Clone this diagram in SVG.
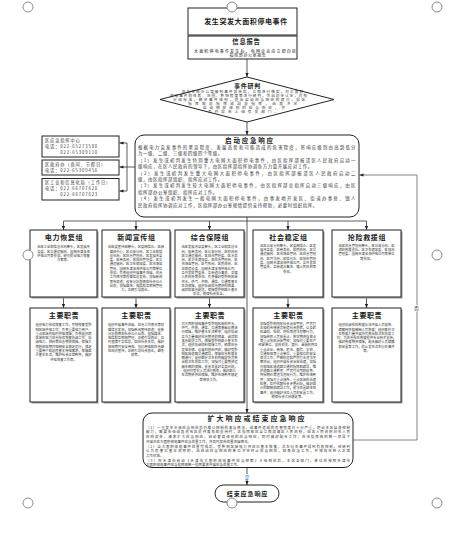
<svg xmlns="http://www.w3.org/2000/svg" width="458" height="535" viewBox="0 0 458 535">
<defs>
<marker id="ah" viewBox="0 0 10 10" refX="10" refY="5" markerWidth="4" markerHeight="4" markerUnits="userSpaceOnUse" orient="auto"><path d="M0,1 L10,5 L0,9 z" fill="#222"/></marker>
<style>
.box{fill:#fff;stroke:#222;stroke-width:1}
.shadow{fill:#9a9a9a;stroke:none}
.t{font-family:"Noto Sans CJK SC","Noto Sans",sans-serif;fill:#1a1a1a}
.hd{font-weight:bold;text-anchor:middle}
.sm{font-size:3.3px;text-anchor:middle;fill:#333}
.ct{font-size:4.2px;letter-spacing:0.9px;fill:#333}
.st{font-size:4.4px;letter-spacing:0.6px;fill:#333}
.ex{font-size:3.5px;fill:#333}
.dm{font-size:3.6px;text-anchor:middle;fill:#333}
.conn{fill:none;stroke:#333;stroke-width:0.8}
.arr{fill:none;stroke:#333;stroke-width:0.8;marker-end:url(#ah)}
.loop{fill:none;stroke:#777;stroke-width:0.9;marker-end:url(#ah)}
.handle{fill:#fff;stroke:#8a8a8a;stroke-width:1}
</style>
</defs>
<rect width="458" height="535" fill="#fff"/>

<g id="connectors">
<path class="arr" d="M247,59 V77"/>
<path class="arr" d="M247,121.5 V135"/>
<path class="arr" d="M247,217 V413"/>
<path class="conn" d="M63.5,221 H366.5"/>
<path class="arr" d="M63.5,221 V230"/>
<path class="arr" d="M136,221 V230"/>
<path class="arr" d="M209.5,221 V230"/>
<path class="arr" d="M288,221 V230"/>
<path class="arr" d="M366.5,221 V230"/>
<path class="arr" d="M63.5,297 V308"/>
<path class="arr" d="M136,297 V308"/>
<path class="arr" d="M209.5,297 V308"/>
<path class="arr" d="M288,297 V308"/>
<path class="arr" d="M366.5,297 V308"/>
<path class="conn" d="M135,167 H127 M127,143 V191"/>
<path class="arr" d="M127,143 H119.5"/>
<path class="arr" d="M127,167 H119.5"/>
<path class="arr" d="M127,191 H119.5"/>
<path class="arr" d="M247,467.5 V485"/>
<path class="loop" d="M353,440 H417 V175 H359.5"/>
<rect x="412.5" y="305" width="8" height="6.5" fill="#fff"/>
<text class="t" x="416.5" y="310.3" font-size="5" text-anchor="middle">否</text>
<rect x="244" y="474" width="6" height="5.5" fill="#fff"/>
<text class="t" x="247" y="478.5" font-size="4.5" text-anchor="middle" style="fill:#3a6fd0">是</text>
</g>

<g id="n-start">
<rect class="box" x="188" y="8" width="109" height="27" stroke-width="1.6"/>
<text class="t hd" x="246" y="23.5" font-size="7" letter-spacing="0.6">发生突发大面积停电事件</text>
</g>

<g id="n-report">
<rect class="box" x="188" y="36" width="109" height="23"/>
<text class="t hd" x="246.5" y="44.3" font-size="6.3" letter-spacing="0.8">信息报告</text>
<text class="t" x="194" y="52.5" font-size="4" fill="#333" textLength="102" lengthAdjust="spacing">大面积停电事件发生后，电网企业应立即向区</text>
<text class="t" x="248" y="57" font-size="4" fill="#333" text-anchor="middle" letter-spacing="0.6">指挥部办公室报告</text>
</g>

<g id="n-judge">
<polygon class="box" points="247,77 334,99.5 247,122 160,99.5"/>
<text class="t hd" x="247.5" y="88" font-size="6" letter-spacing="0.8">事件研判</text>
<text class="t dm" x="242.5" y="92.6" textLength="121" lengthAdjust="spacing">区指挥部办公室接到事件报告后，立即进行核实，对大面积</text>
<text class="t dm" x="238.5" y="96.6" textLength="137" lengthAdjust="spacing">停电事件的性质、范围、影响程度等进行研判，作出初步认定，对照</text>
<text class="t dm" x="239" y="101" textLength="132" lengthAdjust="spacing">分级标准，确定事件级别，提出启动应急响应的建议，报区</text>
<text class="t dm" x="242.5" y="105" textLength="109" lengthAdjust="spacing">指挥部总指挥或副总指挥，由其决定</text>
<text class="t dm" x="244" y="109" textLength="82" lengthAdjust="spacing">启动相应级别的应急响应，并</text>
<text class="t dm" x="243" y="112.6" textLength="70" lengthAdjust="spacing">及时报告上级有关部门。</text>
</g>

<g id="n-contact1">
<rect class="box" x="42" y="136" width="77" height="21" stroke-width="0.9"/>
<text class="t ct" x="45" y="141.5">区应急指挥中心</text>
<text class="t ct" x="45" y="147.5">电话：022-65273500</text>
<text class="t ct" x="45" y="153.5">　　　022-65309110</text>
</g>
<g id="n-contact2">
<rect class="box" x="42" y="160" width="77" height="15" stroke-width="0.9"/>
<text class="t ct" x="45" y="165.8">区政府办（夜间、节假日）</text>
<text class="t ct" x="45" y="171.5">电话：022-65309456</text>
</g>
<g id="n-contact3">
<rect class="box" x="42" y="178.5" width="77" height="21.5" stroke-width="0.9"/>
<text class="t ct" x="45" y="184.3">区工业和信息化局（工作日）</text>
<text class="t ct" x="45" y="190.3">电话：022-66707620</text>
<text class="t ct" x="45" y="196.3">　　　022-66707623</text>
</g>

<g id="n-respond">
<rect class="box" x="135" y="135" width="224" height="82" rx="9" ry="9"/>
<text class="t hd" x="250" y="143.3" font-size="6.5" letter-spacing="1.8">启动应急响应</text>
<text class="t st" x="138" y="149" textLength="218" lengthAdjust="spacing">根据电力突发事件的紧急程度、发展态势和可能造成的危害程度，将响应级别由高到低分</text>
<text class="t st" x="138" y="155.4">为一级、二级、三级和四级四个等级。</text>
<text class="t st" x="138" y="161.8" textLength="218" lengthAdjust="spacing">（1）发生或初判发生特别重大电网大面积停电事件，由区指挥部报请区人民政府启动一</text>
<text class="t st" x="138" y="168.2">级响应，在区人民政府的领导下，由区指挥部指挥协调各方力量开展应对工作。</text>
<text class="t st" x="138" y="174.6" textLength="218" lengthAdjust="spacing">（2）发生或初判发生重大电网大面积停电事件，由区指挥部报请区人民政府启动二</text>
<text class="t st" x="138" y="181">级，由区指挥部组织、指挥应对工作。</text>
<text class="t st" x="138" y="187.4" textLength="218" lengthAdjust="spacing">（3）发生或初判发生较大电网大面积停电事件，由区指挥部总指挥启动三级响应，由区</text>
<text class="t st" x="138" y="193.8">指挥部办公室组织、指挥应对工作。</text>
<text class="t st" x="138" y="200.2" textLength="218" lengthAdjust="spacing">（4）发生或初判发生一般电网大面积停电事件，由事发地开发区、街道办事处、镇人</text>
<text class="t st" x="138" y="206.6">民政府指挥协调应对工作，区指挥部办公室视情提供支持帮助，必要时组织指挥。</text>
</g>

<g id="n-g1">
<rect class="shadow" x="31.5" y="231.5" width="67" height="67"/>
<rect class="box" x="30" y="230" width="67" height="67"/>
<text class="t hd" x="64" y="239.8" font-size="7" letter-spacing="0.7">电力恢复组</text>
<text class="t sm" x="63.5" y="248.2">由区工业和信息化局牵头，区发展改</text>
<text class="t sm" x="63.5" y="252.5">革委、区交通运输局、国网天津滨海</text>
<text class="t sm" x="63.5" y="256.8">供电公司等参加，研究提出电力恢复</text>
<text class="t sm" x="63.5" y="261.1">方案等。</text>
</g>
<g id="n-g2">
<rect class="shadow" x="103.5" y="231.5" width="68" height="67"/>
<rect class="box" x="102" y="230" width="68" height="67"/>
<text class="t hd" x="136.5" y="239.8" font-size="7" letter-spacing="0.7">新闻宣传组</text>
<text class="t sm" x="136" y="248.2">由区委宣传部牵头，区委网信办、区融</text>
<text class="t sm" x="136" y="252.5">媒体中心、区公安分局、区工业和信</text>
<text class="t sm" x="136" y="256.8">息化局、区应急管理局、区发展改革</text>
<text class="t sm" x="136" y="261.1">委、区商务局、区城市管理委、区交</text>
<text class="t sm" x="136" y="265.4">通运输局、区卫生健康委、区市场监</text>
<text class="t sm" x="136" y="269.7">管局、国网天津滨海供电公司等单位</text>
<text class="t sm" x="136" y="274">参加。负责组织开展事件进展、应急</text>
<text class="t sm" x="136" y="278.3">工作情况等权威信息发布，加强新闻</text>
<text class="t sm" x="136" y="282.6">宣传报道；收集分析舆情和社会公众</text>
<text class="t sm" x="136" y="286.9">动态，加强媒体、电信和互联网管理</text>
<text class="t sm" x="136" y="291.2">力，正确引导舆论。</text>
</g>
<g id="n-g3">
<rect class="shadow" x="176.5" y="231.5" width="69" height="67"/>
<rect class="box" x="175" y="230" width="69" height="67"/>
<text class="t hd" x="210" y="239.8" font-size="7" letter-spacing="0.7">综合保障组</text>
<text class="t sm" x="209.5" y="248.2">由区发展改革委牵头，区工业和信息化</text>
<text class="t sm" x="209.5" y="252.5">局、区商务局、区公安分局、区财政局</text>
<text class="t sm" x="209.5" y="256.8">区交通运输局、区城市管理委、区水务</text>
<text class="t sm" x="209.5" y="261.1">局、区卫生健康委、区应急管理局、区</text>
<text class="t sm" x="209.5" y="265.4">市场监管局、区气象局、区民政局、区</text>
<text class="t sm" x="209.5" y="269.7">住房建设委、国网天津滨海供电公司、</text>
<text class="t sm" x="209.5" y="274">各开发区管委会、各街道办事处、各镇</text>
<text class="t sm" x="209.5" y="278.3">人民政府等参加。负责做好受影响区域</text>
<text class="t sm" x="209.5" y="282.6">供水、供气、供热、通信、交通等基本</text>
<text class="t sm" x="209.5" y="286.9">生活保障，组织协调应急物资的储备、</text>
<text class="t sm" x="209.5" y="291.2">调拨和紧急配送，保障受影响群众基本</text>
<text class="t sm" x="209.5" y="295.3">生活，确保社会安全。</text>
</g>
<g id="n-g4">
<rect class="shadow" x="254.5" y="231.5" width="70" height="67"/>
<rect class="box" x="253" y="230" width="70" height="67"/>
<text class="t hd" x="288.5" y="239.8" font-size="7" letter-spacing="0.7">社会稳定组</text>
<text class="t sm" x="288" y="246.8">由区公安分局牵头，区委网信办、区发</text>
<text class="t sm" x="288" y="251.1">展改革委、区商务局、区民政局、区交</text>
<text class="t sm" x="288" y="255.4">通运输局、区市场监管局、区应急管理</text>
<text class="t sm" x="288" y="259.7">局、区司法局、区信访办、区城市管理</text>
<text class="t sm" x="288" y="264">委、国网天津滨海供电公司、各开发区</text>
<text class="t sm" x="288" y="268.3">管委会、各街道办事处、镇人民政府等</text>
<text class="t sm" x="288" y="272.6">参加。</text>
</g>
<g id="n-g5">
<rect class="shadow" x="333.5" y="231.5" width="69" height="67"/>
<rect class="box" x="332" y="230" width="69" height="67"/>
<text class="t hd" x="367" y="239.8" font-size="7" letter-spacing="0.7">抢险救援组</text>
<text class="t sm" x="366.5" y="246.8">由区应急管理局牵头，区公安分局、区</text>
<text class="t sm" x="366.5" y="251.1">消防救援支队、区卫生健康委、区城市</text>
<text class="t sm" x="366.5" y="255.4">管理委、国网天津滨海供电公司等单位</text>
<text class="t sm" x="366.5" y="259.7">等参加。</text>
</g>

<g id="n-d1">
<rect class="shadow" x="31.5" y="309.5" width="67" height="94"/>
<rect class="box" x="30" y="308" width="67" height="94"/>
<text class="t hd" x="64" y="317.8" font-size="7" letter-spacing="0.6">主要职责</text>
<text class="t sm" x="63.5" y="326.2">组织电力抢修恢复工作，尽快恢复受影</text>
<text class="t sm" x="63.5" y="330.5">响区域供电工作；负责重要电力用户、</text>
<text class="t sm" x="63.5" y="334.8">重点区域的临时供电保障；负责组织跨</text>
<text class="t sm" x="63.5" y="339.1">区域的电力应急抢修恢复协调工作；协</text>
<text class="t sm" x="63.5" y="343.4">调电力、燃料等应急物资保障，保障大</text>
<text class="t sm" x="63.5" y="347.7">面积停电期间电网安全稳定运行，满足</text>
<text class="t sm" x="63.5" y="352">重要用户和居民基本用电需求，保障群</text>
<text class="t sm" x="63.5" y="356.3">众基本生活，维护社会正常秩序，做好</text>
<text class="t sm" x="63.5" y="360.6">供电恢复工作等。</text>
</g>
<g id="n-d2">
<rect class="shadow" x="103.5" y="309.5" width="68" height="94"/>
<rect class="box" x="102" y="308" width="68" height="94"/>
<text class="t hd" x="136.5" y="317.8" font-size="7" letter-spacing="0.6">主要职责</text>
<text class="t sm" x="136" y="326.2">组织开展事件进展、应急工作情况等权</text>
<text class="t sm" x="136" y="330.5">威信息发布，加强新闻宣传报道；收集</text>
<text class="t sm" x="136" y="334.8">分析舆情和社会公众动态，加强媒体、</text>
<text class="t sm" x="136" y="339.1">电信和互联网管理，正确引导舆论；及</text>
<text class="t sm" x="136" y="343.4">时澄清不实信息，回应社会关切，做好</text>
<text class="t sm" x="136" y="347.7">停电期间安全用电、节约用电和应急避</text>
<text class="t sm" x="136" y="352">险知识宣传，正确引导社会舆论，避免</text>
<text class="t sm" x="136" y="356.3">恐慌。</text>
</g>
<g id="n-d3">
<rect class="shadow" x="176.5" y="309.5" width="69" height="94"/>
<rect class="box" x="175" y="308" width="69" height="94"/>
<text class="t hd" x="210" y="317.8" font-size="7" letter-spacing="0.6">主要职责</text>
<text class="t sm" x="209.5" y="324.7">对大面积停电事件受影响区域的供水、</text>
<text class="t sm" x="209.5" y="329">供气、供热、通信、交通等基础设施进</text>
<text class="t sm" x="209.5" y="333.3">行保障，维护基本生活秩序；组织协调</text>
<text class="t sm" x="209.5" y="337.6">各方力量做好应急物资的储备、调拨和</text>
<text class="t sm" x="209.5" y="341.9">紧急配送工作，保障受影响群众基本生</text>
<text class="t sm" x="209.5" y="346.2">活；组织协调燃料保障工作，确保应急</text>
<text class="t sm" x="209.5" y="350.5">发电车辆、设备的燃料供应；做好受影</text>
<text class="t sm" x="209.5" y="354.8">响区域道路交通疏导，保障应急救援车</text>
<text class="t sm" x="209.5" y="359.1">辆通行；组织医疗卫生机构做好伤员救</text>
<text class="t sm" x="209.5" y="363.4">治和卫生防疫工作；加强对重要物资运</text>
<text class="t sm" x="209.5" y="367.7">输车辆的保障，妥善处置好各类问题，</text>
<text class="t sm" x="209.5" y="372">组织对受灾人员进行救助，做好群众</text>
<text class="t sm" x="209.5" y="376.3">生活物资供应保障，维护市场秩序稳定</text>
<text class="t sm" x="209.5" y="380.6">等相关工作。</text>
</g>
<g id="n-d4">
<rect class="shadow" x="254.5" y="309.5" width="70" height="94"/>
<rect class="box" x="253" y="308" width="70" height="94"/>
<text class="t hd" x="288.5" y="317.8" font-size="7" letter-spacing="0.6">主要职责</text>
<text class="t sm" x="288" y="324.7">加强受影响地区社会治安管理，严厉打</text>
<text class="t sm" x="288" y="329">击借机传播谣言制造社会恐慌，以及趁</text>
<text class="t sm" x="288" y="333.3">机盗窃、抢劫、哄抢等违法犯罪行为；</text>
<text class="t sm" x="288" y="337.6">加强转移人员安置点、救灾物资存放点</text>
<text class="t sm" x="288" y="341.9">等重点地区治安管控；加强对重要生产</text>
<text class="t sm" x="288" y="346.2">经营单位、党政机关、银行、金融机构及</text>
<text class="t sm" x="288" y="350.5">重点企业、商场、超市、医院、学校、</text>
<text class="t sm" x="288" y="354.8">交通枢纽等重点单位、重要部位的安全</text>
<text class="t sm" x="288" y="359.1">保卫工作；严密防范和严厉打击违法犯</text>
<text class="t sm" x="288" y="363.4">罪活动；组织开展社会治安巡逻，加强</text>
<text class="t sm" x="288" y="367.7">对停电区域道路交通的指挥和疏导，维</text>
<text class="t sm" x="288" y="372">护道路交通秩序；严厉打击囤积居奇、</text>
<text class="t sm" x="288" y="376.3">哄抬物价等违法违规行为，维护市场秩</text>
<text class="t sm" x="288" y="380.6">序；加强对重点场所、重点区域的巡逻</text>
<text class="t sm" x="288" y="384.9">检查，及时化解社会矛盾纠纷，做好群</text>
<text class="t sm" x="288" y="389.2">众的解释和疏导工作，依法处置群体性</text>
<text class="t sm" x="288" y="393.5">事件；组织做好涉及人员的安置工作，</text>
<text class="t sm" x="288" y="397.8">确保社会大局稳定等。</text>
</g>
<g id="n-d5">
<rect class="shadow" x="333.5" y="309.5" width="69" height="94"/>
<rect class="box" x="332" y="308" width="69" height="94"/>
<text class="t hd" x="367" y="317.8" font-size="7" letter-spacing="0.6">主要职责</text>
<text class="t sm" x="366.5" y="326.2">组织协调抢险救援队伍开展人员搜救、</text>
<text class="t sm" x="366.5" y="330.5">疏散转移和被困人员救援；组织医疗卫</text>
<text class="t sm" x="366.5" y="334.8">生救援力量开展伤员救治和卫生防疫工</text>
<text class="t sm" x="366.5" y="339.1">作；为应急抢险救援提供专业技术支持，</text>
<text class="t sm" x="366.5" y="343.4">做好救援物资保障，配合做好人员疏散</text>
<text class="t sm" x="366.5" y="347.7">和安置等工作，防止发生次生衍生事件</text>
<text class="t sm" x="366.5" y="352">等。</text>
</g>

<g id="n-expand">
<rect class="box" x="143" y="413" width="210" height="54.5" rx="9" ry="9"/>
<text class="t hd" x="257" y="420.5" font-size="7" letter-spacing="2">扩大响应或结束应急响应</text>
<text class="t ex" x="146" y="428.7" textLength="204" lengthAdjust="spacing">（1）一旦发生本级应急响应后仍难以控制的紧急情况，或事件造成的危害程度已十分严重，超出本区自身控制</text>
<text class="t ex" x="146" y="433.4" textLength="204" lengthAdjust="spacing">能力，需要市级或其他地区提供援助和支持时，区指挥部应当立即报请区人民政府，由区人民政府向市人民</text>
<text class="t ex" x="146" y="438.1" textLength="204" lengthAdjust="spacing">政府报告，请求扩大应急响应，启动更高级别的应急响应，同时做好配合工作；在市指挥部的统一领导下</text>
<text class="t ex" x="146" y="442.8">开展本区大面积停电事件应急处置工作，并及时报告处置进展情况。</text>
<text class="t ex" x="146" y="447.5" textLength="204" lengthAdjust="spacing">（2）当大面积停电事件处置完成后，受影响区域电力供应已基本恢复，次生衍生事件得到有效控制，经研判</text>
<text class="t ex" x="146" y="452.2" textLength="204" lengthAdjust="spacing">认为危害已基本消除的，由启动应急响应的单位决定终止应急响应，结束应急工作，并按规定转入正常</text>
<text class="t ex" x="146" y="456.9">工作状态。</text>
<text class="t ex" x="146" y="461.6" textLength="204" lengthAdjust="spacing">（3）在天津市启动《天津市大面积停电事件应急预案》Ⅱ级响应后，本区各部门、单位应按照天津市</text>
<text class="t ex" x="146" y="466">大面积停电事件应急指挥部统一指挥要求开展应急处置工作。</text>
</g>

<g id="n-end">
<rect class="box" x="215" y="485" width="64" height="17" rx="8.5" ry="8.5"/>
<text class="t hd" x="247.5" y="496.2" font-size="6" letter-spacing="0.9">结束应急响应</text>
</g>

<g id="handles">
<circle class="handle" cx="28" cy="7" r="5"/>
<circle class="handle" cx="232" cy="7" r="5"/>
<circle class="handle" cx="437" cy="7" r="5"/>
<circle class="handle" cx="28" cy="255" r="5"/>
<circle class="handle" cx="437" cy="255" r="5"/>
<circle class="handle" cx="28" cy="503" r="5"/>
<circle class="handle" cx="232" cy="503" r="5"/>
<circle class="handle" cx="437" cy="503" r="5"/>
</g>
</svg>
